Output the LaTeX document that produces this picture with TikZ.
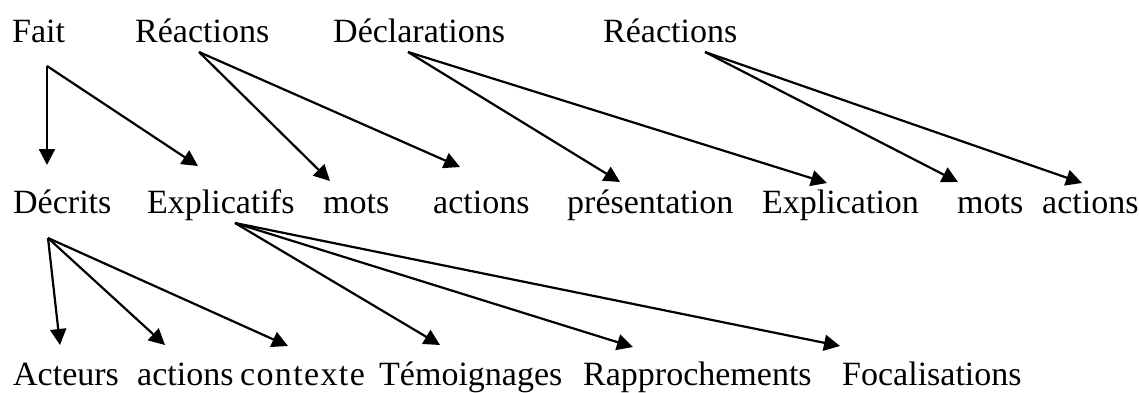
\documentclass[tikz,border=0pt]{standalone}
\usepackage{fontspec}
\setmainfont{Liberation Serif}
\usetikzlibrary{arrows.meta}

\begin{document}
\begin{tikzpicture}[x=1pt, y=-1pt, font=\fontsize{34}{40}\selectfont,
        word/.style={anchor=base west, inner sep=0pt},
        arr/.style={-{Triangle[length=16pt, width=16pt]}, line width=2.2pt}]
        \useasboundingbox (0,0) rectangle (1139,392);
        % Niveau 1
        \node[word] (fait)  at (12,42)  {Fait};
        \node[word] (reac)  at (135,42) {Réactions};
        \node[word] (decl)  at (333,42) {Déclarations};
        \node[word] (reacb) at (603,42) {Réactions};
        % Niveau 2
        \node[word] (decrits) at (13,213)   {Décrits};
        \node[word] (explic)  at (147,213)  {Explicatifs};
        \node[word] (mots)    at (323,213)  {mots};
        \node[word] (act)     at (433,213)  {actions};
        \node[word] (pres)    at (567,213)  {présentation};
        \node[word] (expl)    at (762,213)  {Explication};
        \node[word] (motsb)   at (957,213)  {mots};
        \node[word] (actb)    at (1042,213) {actions};
        % Niveau 3
        \node[word] (acteurs) at (13,385)  {Acteurs};
        \node[word] (actc)    at (137,385) {actions};
        \node[word] (ctx)     at (240,385) {\addfontfeature{LetterSpace=4}contexte};
        \node[word] (temo)    at (379,385) {Témoignages};
        \node[word] (rappr)   at (583,385) {Rapprochements};
        \node[word] (focal)   at (842,385) {Focalisations};
        % Points de départ
        \foreach \n/\dx/\dy in {fait/35/24, reac/64/10, decl/75/10,
                                reacb/102/10, decrits/35/25, explic/88/10}
          \coordinate (\n-out) at ([shift={(\dx,\dy)}]\n.base west);
        % Flèches
        \foreach \s/\t/\dx/\dy in {fait/decrits/34/-48, fait/explic/51/-47,
                                   reac/mots/7/-32, reac/act/27/-46,
                                   decl/pres/53/-31, decl/expl/65/-30,
                                   reacb/motsb/1/-31, reacb/actb/40/-30,
                                   decrits/acteurs/47/-40, decrits/actc/28/-40,
                                   decrits/ctx/48/-39, explic/temo/61/-40,
                                   explic/rappr/50/-38, explic/focal/-2/-39}
          \draw[arr] (\s-out) -- ([shift={(\dx,\dy)}]\t.base west);
      \end{tikzpicture}
\end{document}
